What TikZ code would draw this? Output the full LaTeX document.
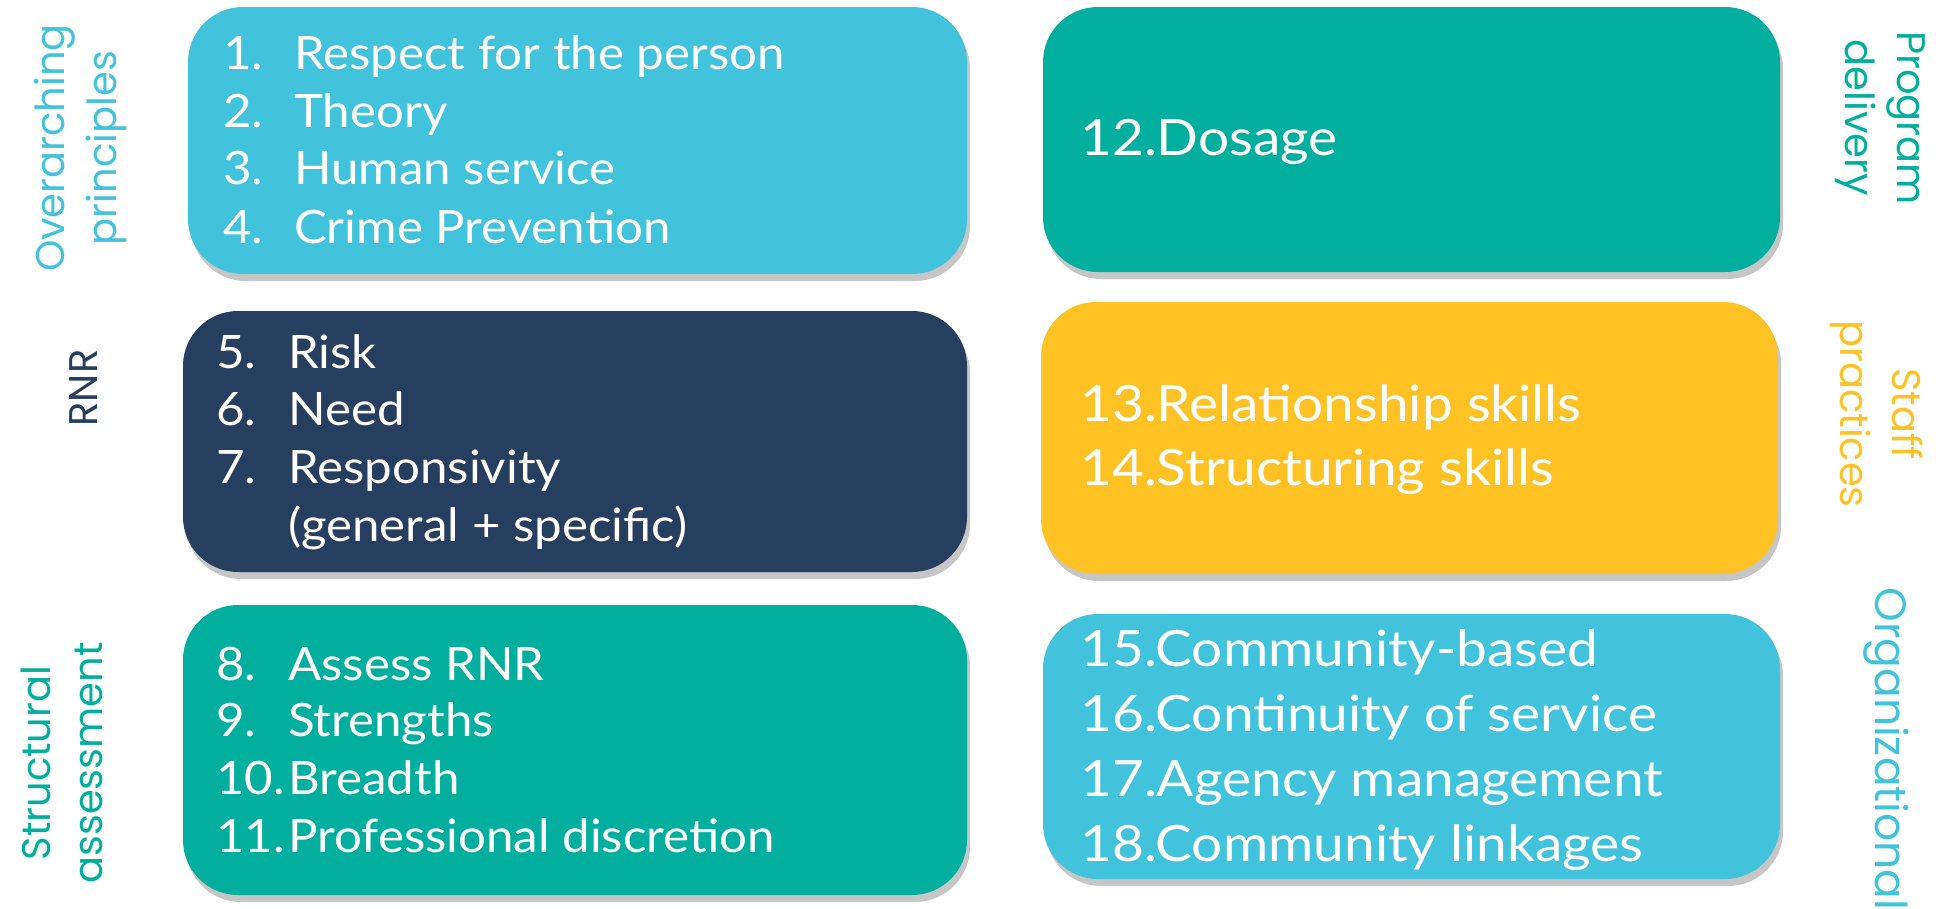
\documentclass[tikz,border=0pt]{standalone}
\usepackage{fontspec}
\setmainfont{Lato}
\newfontfamily\listfont[FakeStretch=1.07]{Lato}
\newfontfamily\rlistfont[FakeStretch=1.1]{Lato}
\newfontfamily\sidefont{Poppins}
\usetikzlibrary{shadows}
\definecolor{cblue}{HTML}{42C3DC}
\definecolor{cteal}{HTML}{02AF9E}
\definecolor{cnavy}{HTML}{273F5F}
\definecolor{cyellow}{HTML}{FEC225}
\begin{document}
\begin{tikzpicture}[x=1pt,y=-1pt,
  box/.style={rectangle, rounded corners=55pt, inner sep=0pt, draw=none,
    drop shadow={shadow xshift=3pt, shadow yshift=-7pt, opacity=0.28, fill=black!80}},
  itemtxt/.style={anchor=base west, inner sep=0pt, text=white, font=\listfont\fontsize{46}{46}\selectfont},
  bigtxt/.style={anchor=base west, inner sep=0pt, text=white, font=\rlistfont\fontsize{50}{50}\selectfont},
  sidelab/.style={inner sep=0pt, align=center, font=\sidefont\fontsize{40}{52}\selectfont}]
\useasboundingbox (0,0) rectangle (1936,908);
% boxes
\node[box, fill=cblue,   minimum width=779pt, minimum height=267pt] (b1) at (577.5,140.5) {};
\node[box, fill=cteal,   minimum width=737pt, minimum height=265pt] (b2) at (1411.5,139.5) {};
\node[box, fill=cnavy,   minimum width=784pt, minimum height=261pt] (b3) at (575,441.5) {};
\node[box, fill=cyellow, minimum width=737pt, minimum height=272pt] (b4) at (1409.5,438) {};
\node[box, fill=cteal,   minimum width=784pt, minimum height=290pt] (b5) at (575,750) {};
\node[box, fill=cblue,   minimum width=737pt, minimum height=265pt] (b6) at (1411.5,746.5) {};
% box 1
\node[itemtxt] (n1) at (223,69) {1.};  \node[itemtxt] (t1) at (294,69) {Respect for the person};
\node[itemtxt] (n2) at (223,127) {2.}; \node[itemtxt] (t2) at (294,127) {Theory};
\node[itemtxt] (n3) at (223,184) {3.}; \node[itemtxt] (t3) at (294,184) {Human service};
\node[itemtxt] (n4) at (223,243) {4.}; \node[itemtxt] (t4) at (294,243) {Crime Prevention};
% box 3
\node[itemtxt] (n5) at (216,368) {5.}; \node[itemtxt] (t5) at (288,368) {Risk};
\node[itemtxt] (n6) at (216,425) {6.}; \node[itemtxt] (t6) at (288,425) {Need};
\node[itemtxt] (n7) at (216,483) {7.}; \node[itemtxt] (t7) at (288,483) {Responsivity};
\node[itemtxt] (t7b) at (288,541) {(general + specific)};
% box 5
\node[itemtxt] (n8) at (216,680) {8.}; \node[itemtxt] (t8) at (288,680) {Assess RNR};
\node[itemtxt] (n9) at (216,736) {9.}; \node[itemtxt] (t9) at (288,736) {Strengths};
\node[itemtxt] (n10) at (216,794) {10.}; \node[itemtxt] (t10) at (288,794) {Breadth};
\node[itemtxt] (n11) at (216,852) {11.}; \node[itemtxt] (t11) at (288,852) {Professional discretion};
% box 2
\node[bigtxt] (t12) at (1080,155) {12.Dosage};
% box 4
\node[bigtxt] (t13) at (1080,421) {13.Relationship skills};
\node[bigtxt] (t14) at (1080,485) {14.Structuring skills};
% box 6
\node[bigtxt] (t15) at (1080,666) {15.Community-based};
\node[bigtxt] (t16) at (1080,731) {16.Continuity of service};
\node[bigtxt] (t17) at (1080,796) {17.Agency management};
\node[bigtxt] (t18) at (1080,861) {18.Community linkages};
% side labels
\node[sidelab, text=cblue, rotate=90] (l1) at (80,148) {Overarching\\principles};
\node[sidelab, text=cnavy, rotate=90] (l3) at (84,388) {RNR};
\node[sidelab, text=cteal, rotate=90] (l5) at (62,763) {Structural\\assessment};
\node[sidelab, text=cteal, rotate=-90] (l2) at (1880,118) {Program\\delivery};
\node[sidelab, text=cyellow, rotate=-90] (l4) at (1877,414) {Staff\\practices};
\node[sidelab, text=cblue, rotate=-90, font=\sidefont\fontsize{44}{52}\selectfont] (l6) at (1886,749) {Organizational};
\end{tikzpicture}
\end{document}
